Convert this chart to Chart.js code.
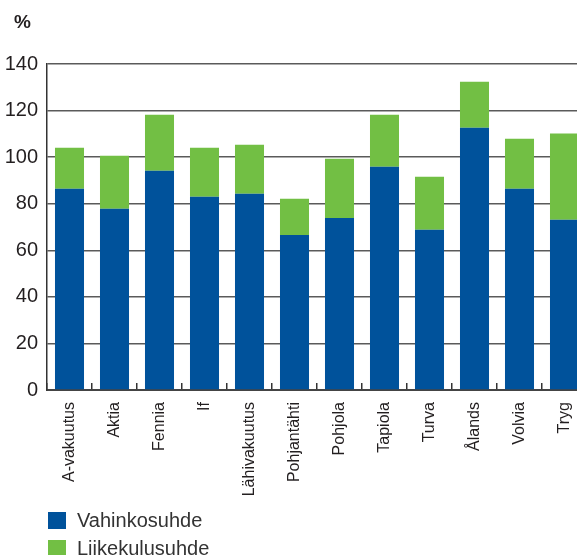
<!DOCTYPE html>
<html>
<head>
<meta charset="utf-8">
<script src="https://cdn.jsdelivr.net/npm/chart.js@4.4.1/dist/chart.umd.min.js"></script>
<style>
  html, body { margin: 0; padding: 0; overflow: hidden; background: #fff; }
  canvas { display: block; }
</style>
</head>
<body>
<canvas id="chart" width="587" height="555"></canvas>
<script>
const COMPANIES = ["A-vakuutus", "Aktia", "Fennia", "If", "Lähivakuutus", "Pohjantähti",
  "Pohjola", "Tapiola", "Turva", "Ålands", "Volvia", "Tryg"];
const LOSS_RATIO = [86.4, 77.8, 94.2, 83.0, 84.3, 66.6, 73.9, 95.9, 68.8, 112.6, 86.4, 73.1];
const EXPENSE_RATIO = [17.6, 22.8, 24.0, 21.0, 21.0, 15.5, 25.4, 22.3, 22.8, 19.8, 21.5, 37.0];
const SERIES_NAMES = ["Vahinkosuhde", "Liikekulusuhde"];
const COLORS = ["#00529b", "#72bf44"];
const UNIT = "%";
const Y_MAX = 140;
const Y_STEP = 20;

const TEXT = "#231f20";
const FONT = "'Liberation Sans', Arial, sans-serif";

// unit label on top, legend stacked vertically under the axis labels
const extras = {
  id: "extras",
  afterDraw(chart) {
    const c = chart.ctx;
    c.save();
    c.textBaseline = "middle";
    c.fillStyle = TEXT;
    c.font = "bold 19px " + FONT;
    c.fillText(UNIT, 14, 23);
    c.font = "20px " + FONT;
    chart.data.datasets.forEach((ds, i) => {
      const y = 520 + i * 28;
      c.fillStyle = ds.backgroundColor;
      c.fillRect(48, y - 8, 18, 17);
      c.fillStyle = "#333";
      c.fillText(ds.label, 77, y + 1);
    });
    c.restore();
  }
};

new Chart(document.getElementById("chart"), {
  type: "bar",
  data: {
    labels: COMPANIES,
    datasets: [
      { label: SERIES_NAMES[0], data: LOSS_RATIO, backgroundColor: COLORS[0] },
      { label: SERIES_NAMES[1], data: EXPENSE_RATIO, backgroundColor: COLORS[1] }
    ]
  },
  options: {
    responsive: false,
    animation: false,
    devicePixelRatio: 1,
    layout: { padding: { left: 0, right: 0, top: 64, bottom: 45 } },
    datasets: { bar: { barPercentage: 0.645, categoryPercentage: 1 } },
    scales: {
      x: {
        stacked: true,
        afterFit: (s) => { s.height = 120; s.paddingLeft = 0; s.paddingRight = 0; },
        grid: { display: true, drawOnChartArea: false, offset: true, tickLength: -7, color: "#333", lineWidth: 1.5 },
        border: { color: "#444", width: 2 },
        ticks: {
          minRotation: 90, maxRotation: 90, padding: 19, color: TEXT,
          font: { family: FONT, size: 16 }
        }
      },
      y: {
        stacked: true,
        min: 0, max: Y_MAX,
        afterFit: (s) => { s.width = 47; },
        grid: { color: "#5a5a5a", lineWidth: 1.5, drawTicks: false },
        border: { color: "#333", width: 1.5 },
        ticks: {
          stepSize: Y_STEP, padding: 9, color: TEXT,
          font: { family: FONT, size: 20 }
        }
      }
    },
    plugins: {
      legend: { display: false },
      tooltip: { enabled: false }
    }
  },
  plugins: [extras]
});
</script>
</body>
</html>
